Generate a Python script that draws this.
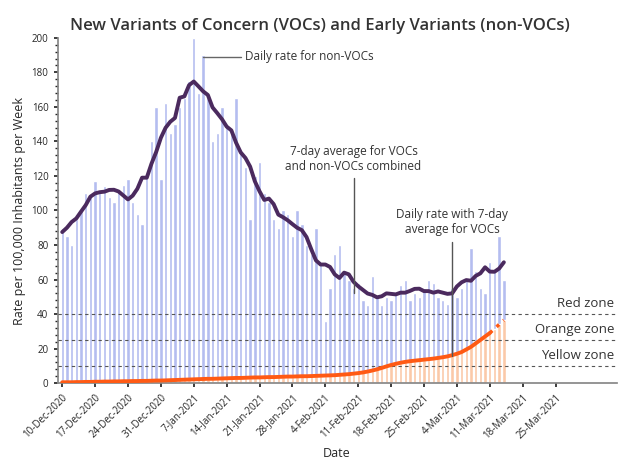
import numpy as np, pandas as pd, matplotlib
matplotlib.use("Agg")
import matplotlib.pyplot as plt, seaborn as sns

daily_total = [90,85,80,95,100,110,108, 117,112,114,108,105,112,115, 118,105,98,92,120,140,160,
               118,162,145,150,160,165,175, 200,168,190,165,140,145,160, 150,145,165,135,125,95,120,
               128,110,105,95,90,100,98, 85,100,92,80,75,90,70, 36,55,75,80,65,60,55,
               58,48,45,62,50,45,50, 48,52,57,60,48,52,50, 55,60,58,50,48,46,55,
               50,55,60,78,65,55,52, 70,65,85,60]
daily_voc = [0.5,0.5,0.5,0.6,0.6,0.7,0.7, 0.8,0.8,0.9,0.9,1.0,1.0,1.1, 1.1,1.2,1.2,1.3,1.3,1.4,1.5,
             1.5,1.6,1.7,1.8,1.9,2.0,2.1, 2.2,2.3,2.4,2.5,2.5,2.6,2.7, 2.8,2.9,3.0,3.0,3.1,3.2,3.3,
             3.3,3.4,3.5,3.5,3.6,3.7,3.8, 3.8,3.9,4.0,4.0,4.1,4.2,4.3, 4.4,4.5,4.6,4.8,5.0,5.2,5.5,
             5.8,6.2,6.7,7.3,8.0,8.8,9.7, 10.5,11.2,11.8,12.3,12.7,13.0,13.3, 13.6,13.9,14.2,14.6,15.0,15.5,16.2,
             17.0,18.0,19.5,21.0,23.0,25.0,27.0, 29.0,31.5,34.0,36.5]
avg_line = pd.Series(daily_total).rolling(7, center=True, min_periods=1).mean().round(1).tolist()
tick_labels = ["10-Dec-2020","17-Dec-2020","24-Dec-2020","31-Dec-2020","7-Jan-2021","14-Jan-2021",
               "21-Jan-2021","28-Jan-2021","4-Feb-2021","11-Feb-2021","18-Feb-2021","25-Feb-2021",
               "4-Mar-2021","11-Mar-2021","18-Mar-2021","25-Mar-2021"]
zones = [40, 25, 10]
zone_names = ["Red zone", "Orange zone", "Yellow zone"]

sns.set_theme(style="white")
plt.rcParams['font.family'] = ['Open Sans', 'DejaVu Sans']
df = pd.DataFrame({"day": np.arange(len(daily_total)), "total": daily_total,
                   "voc": daily_voc, "avg": avg_line})

fig, ax = plt.subplots(figsize=(6.39, 4.73), dpi=100)
ax.bar(df.day, df.total, width=0.72, color="#b4bdf0", zorder=1)
ax.bar(df.day, df.voc, width=0.72, color="#fbc9a8", zorder=2)
sns.lineplot(data=df, x="day", y="avg", ax=ax, color="#4b2a5e", lw=2.8, zorder=4)
solid = df[df.day <= 91]
sns.lineplot(data=solid, x="day", y="voc", ax=ax, color="#ff5a14", lw=2.8, zorder=4)
ax.plot(df.day[df.day >= 91], df.voc[df.day >= 91], color="#ff5a14", lw=2.5, ls=":", zorder=4)
for z, n in zip(zones, zone_names):
    ax.axhline(z, color="#555555", lw=0.8, ls=(0, (3, 3)), zorder=3)
    ax.text(117.5, z + 2.5, n, ha="right", va="bottom", fontsize=9.5, color="#333333")

ax.set_xlim(-1, 118)
ax.set_ylim(0, 200)
ax.set_xticks(np.arange(0, 106, 7))
ax.set_xticklabels(tick_labels, rotation=45, ha="right", rotation_mode="anchor", fontsize=7)
ax.set_yticks(np.arange(0, 201, 20))
ax.tick_params(axis="y", labelsize=7, length=3, left=True)
ax.tick_params(axis="x", length=3, bottom=True)
ax.set_yticks(np.arange(0, 201, 4), minor=True)
ax.tick_params(axis="y", which="minor", length=2, left=True)
for s in ["top", "right"]:
    ax.spines[s].set_visible(False)
for s in ["left", "bottom"]:
    ax.spines[s].set_color("#888888")
ax.set_xlabel("Date", fontsize=9)
ax.set_ylabel("Rate per 100,000 Inhabitants per Week", fontsize=9)
ax.set_title("New Variants of Concern (VOCs) and Early Variants (non-VOCs)", fontsize=12,
             color="#333333", fontweight="semibold", x=0.47)

ax.plot([30, 38], [189, 189], color="#666666", lw=1)
ax.text(39, 189, "Daily rate for non-VOCs", fontsize=8.5, va="center", color="#333333")
ax.plot([62, 62], [52, 119], color="#555555", lw=1, zorder=5)
ax.text(62, 122, "7-day average for VOCs\nand non-VOCs combined", fontsize=8.5, ha="center", va="bottom", color="#333333")
ax.plot([83, 83], [16, 82], color="#555555", lw=1, zorder=5)
ax.text(83, 85, "Daily rate with 7-day\naverage for VOCs", fontsize=8.5, ha="center", va="bottom", color="#333333")

fig.subplots_adjust(left=0.09, right=0.965, top=0.92, bottom=0.19)
fig.savefig("out.png")
